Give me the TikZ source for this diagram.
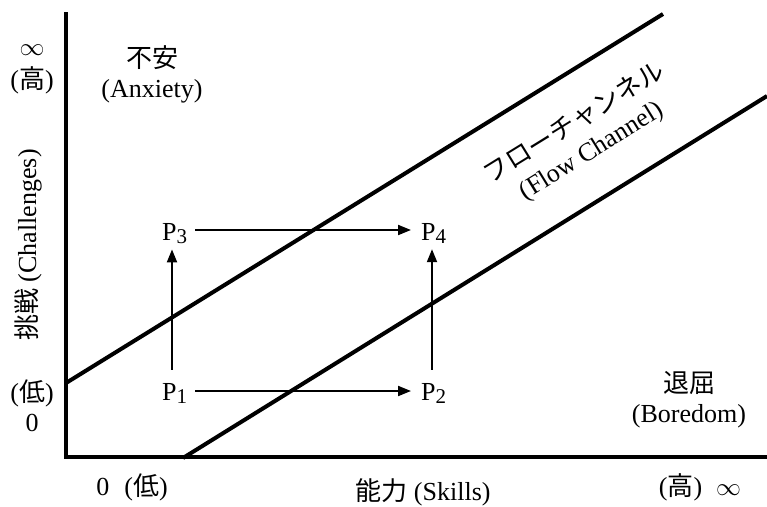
\documentclass[tikz,border=0pt]{standalone}
\usepackage{fontspec}
\setmainfont{Liberation Serif}
\newfontfamily\cjk{Noto Sans CJK JP}
\usetikzlibrary{arrows.meta}
\newcommand{\sbs}[1]{\raisebox{-3pt}{\fontsize{21}{22}\selectfont #1}}
\tikzset{
  lbl/.style={font=\fontsize{26}{30}\selectfont, inner sep=0pt, align=center},
  axisline/.style={line width=4pt},
  chanline/.style={line width=4pt},
  movearrow/.style={line width=2pt, -{Triangle[length=13pt,width=10pt]}},
  pt/.style={font=\fontsize{26}{30}\selectfont, inner sep=0pt, anchor=base west}
}
\begin{document}
\begin{tikzpicture}[x=1pt,y=-1pt]
\useasboundingbox (0,0) rectangle (767,506);
% axes
\coordinate (otop) at (66,12);
\coordinate (origin) at (66,457);
\coordinate (xend) at (767,457);
\draw[axisline] (otop) -- (origin) -- (xend);
% channel lines
\coordinate (u1) at (66,383);
\coordinate (u2) at (663,14);
\coordinate (l1) at (183,458);
\coordinate (l2) at (767,96);
\draw[chanline] (u1) -- (u2);
\draw[chanline] (l1) -- (l2);
% points
\node[pt] (P1) at (162,400) {P\sbs{1}};
\node[pt] (P2) at (421,400) {P\sbs{2}};
\node[pt] (P3) at (162,240) {P\sbs{3}};
\node[pt] (P4) at (421,240) {P\sbs{4}};
\draw[movearrow] ([xshift=8pt,yshift=9pt]P1.base east) -- ([xshift=-10pt,yshift=9pt]P2.base west);
\draw[movearrow] ([xshift=8pt,yshift=10pt]P3.base east) -- ([xshift=-10pt,yshift=10pt]P4.base west);
\draw[movearrow] ([xshift=10pt,yshift=13pt]P1.north west) -- ([xshift=10pt,yshift=-6pt]P3.south west);
\draw[movearrow] ([xshift=11pt,yshift=13pt]P2.north west) -- ([xshift=11pt,yshift=-6pt]P4.south west);
% labels
\node[lbl] (inf1) at (32,50) {$\infty$};
\node[lbl] (hi1) at (32,80) {({\cjk 高})};
\node[lbl] (anx) at (152,74) {{\cjk 不安}\\(Anxiety)};
\node[lbl, rotate=31.7] (flow) at (583,137) {{\cjk フローチャンネル}\\[2pt](Flow Channel)};
\node[lbl] (lo1) at (32,393) {({\cjk 低})};
\node[lbl] (zero1) at (32,423) {0};
\node[lbl] (zero2) at (132,487) {0\hspace{15pt}({\cjk 低})};
\node[lbl] (skills) at (423,492) {{\cjk 能力} (Skills)};
\node[lbl] (hi2) at (700,487) {({\cjk 高})\hspace{14pt}$\infty$};
\node[lbl, rotate=90] (chal) at (28,245) {{\cjk 挑戦} (Challenges)};
\node[lbl] (bore) at (689,400) {{\cjk 退屈}\\(Boredom)};
\end{tikzpicture}
\end{document}
